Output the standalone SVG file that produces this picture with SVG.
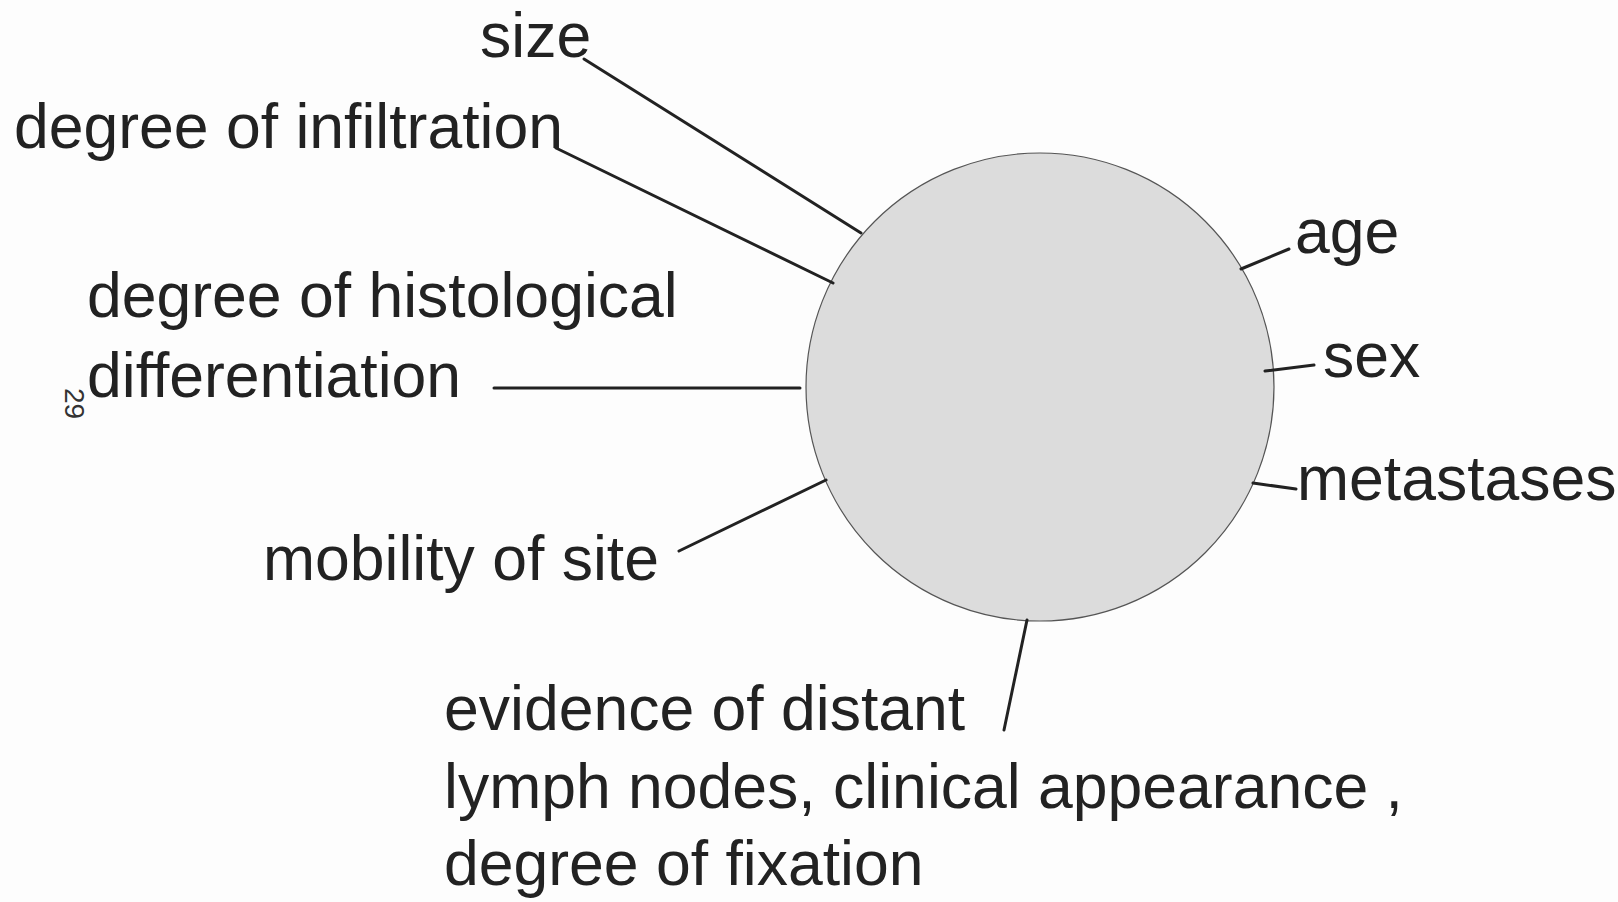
<svg xmlns="http://www.w3.org/2000/svg" width="1618" height="902" viewBox="0 0 1618 902">
<style>
.t{font-family:"Liberation Sans",Arial,Helvetica,sans-serif;font-size:62.5px;fill:#222}
.c{stroke:#222;stroke-width:3;fill:none;stroke-linecap:round}
</style>
<rect width="1618" height="902" fill="#fdfdfd"/>
<g id="tumour">
<circle cx="1040" cy="387" r="234" fill="#dcdcdc" stroke="#555" stroke-width="1.2"/>
</g>
<g id="connectors">
<line class="c" x1="584" y1="59" x2="861" y2="233"/>
<line class="c" x1="556" y1="148" x2="833" y2="283"/>
<line class="c" x1="494" y1="388" x2="800" y2="388"/>
<line class="c" x1="679" y1="551" x2="826" y2="480"/>
<line class="c" x1="1027" y1="620" x2="1004" y2="730"/>
<line class="c" x1="1241" y1="269" x2="1289" y2="249"/>
<line class="c" x1="1265" y1="371" x2="1314" y2="365"/>
<line class="c" x1="1253" y1="483" x2="1296" y2="489"/>
</g>
<g id="size"><text class="t" x="480" y="57">size</text></g>
<g id="infiltration"><text class="t" x="14" y="148">degree of infiltration</text></g>
<g id="histological"><text class="t" x="87" y="317">degree of histological</text><text class="t" x="87" y="397">differentiation</text></g>
<g id="mobility"><text class="t" x="263" y="580">mobility of site</text></g>
<g id="distant"><text class="t" x="444" y="730">evidence of distant</text><text class="t" x="444" y="808">lymph nodes, clinical appearance ,</text><text class="t" x="444" y="885">degree of fixation</text></g>
<g id="age"><text class="t" x="1295" y="253">age</text></g>
<g id="sex"><text class="t" x="1323" y="377">sex</text></g>
<g id="metastases"><text class="t" x="1297" y="500">metastases</text></g>
<g id="page"><text x="65" y="388" transform="rotate(90 65 388)" font-family="Liberation Sans,Arial,sans-serif" font-size="28" fill="#333">29</text></g>
</svg>
